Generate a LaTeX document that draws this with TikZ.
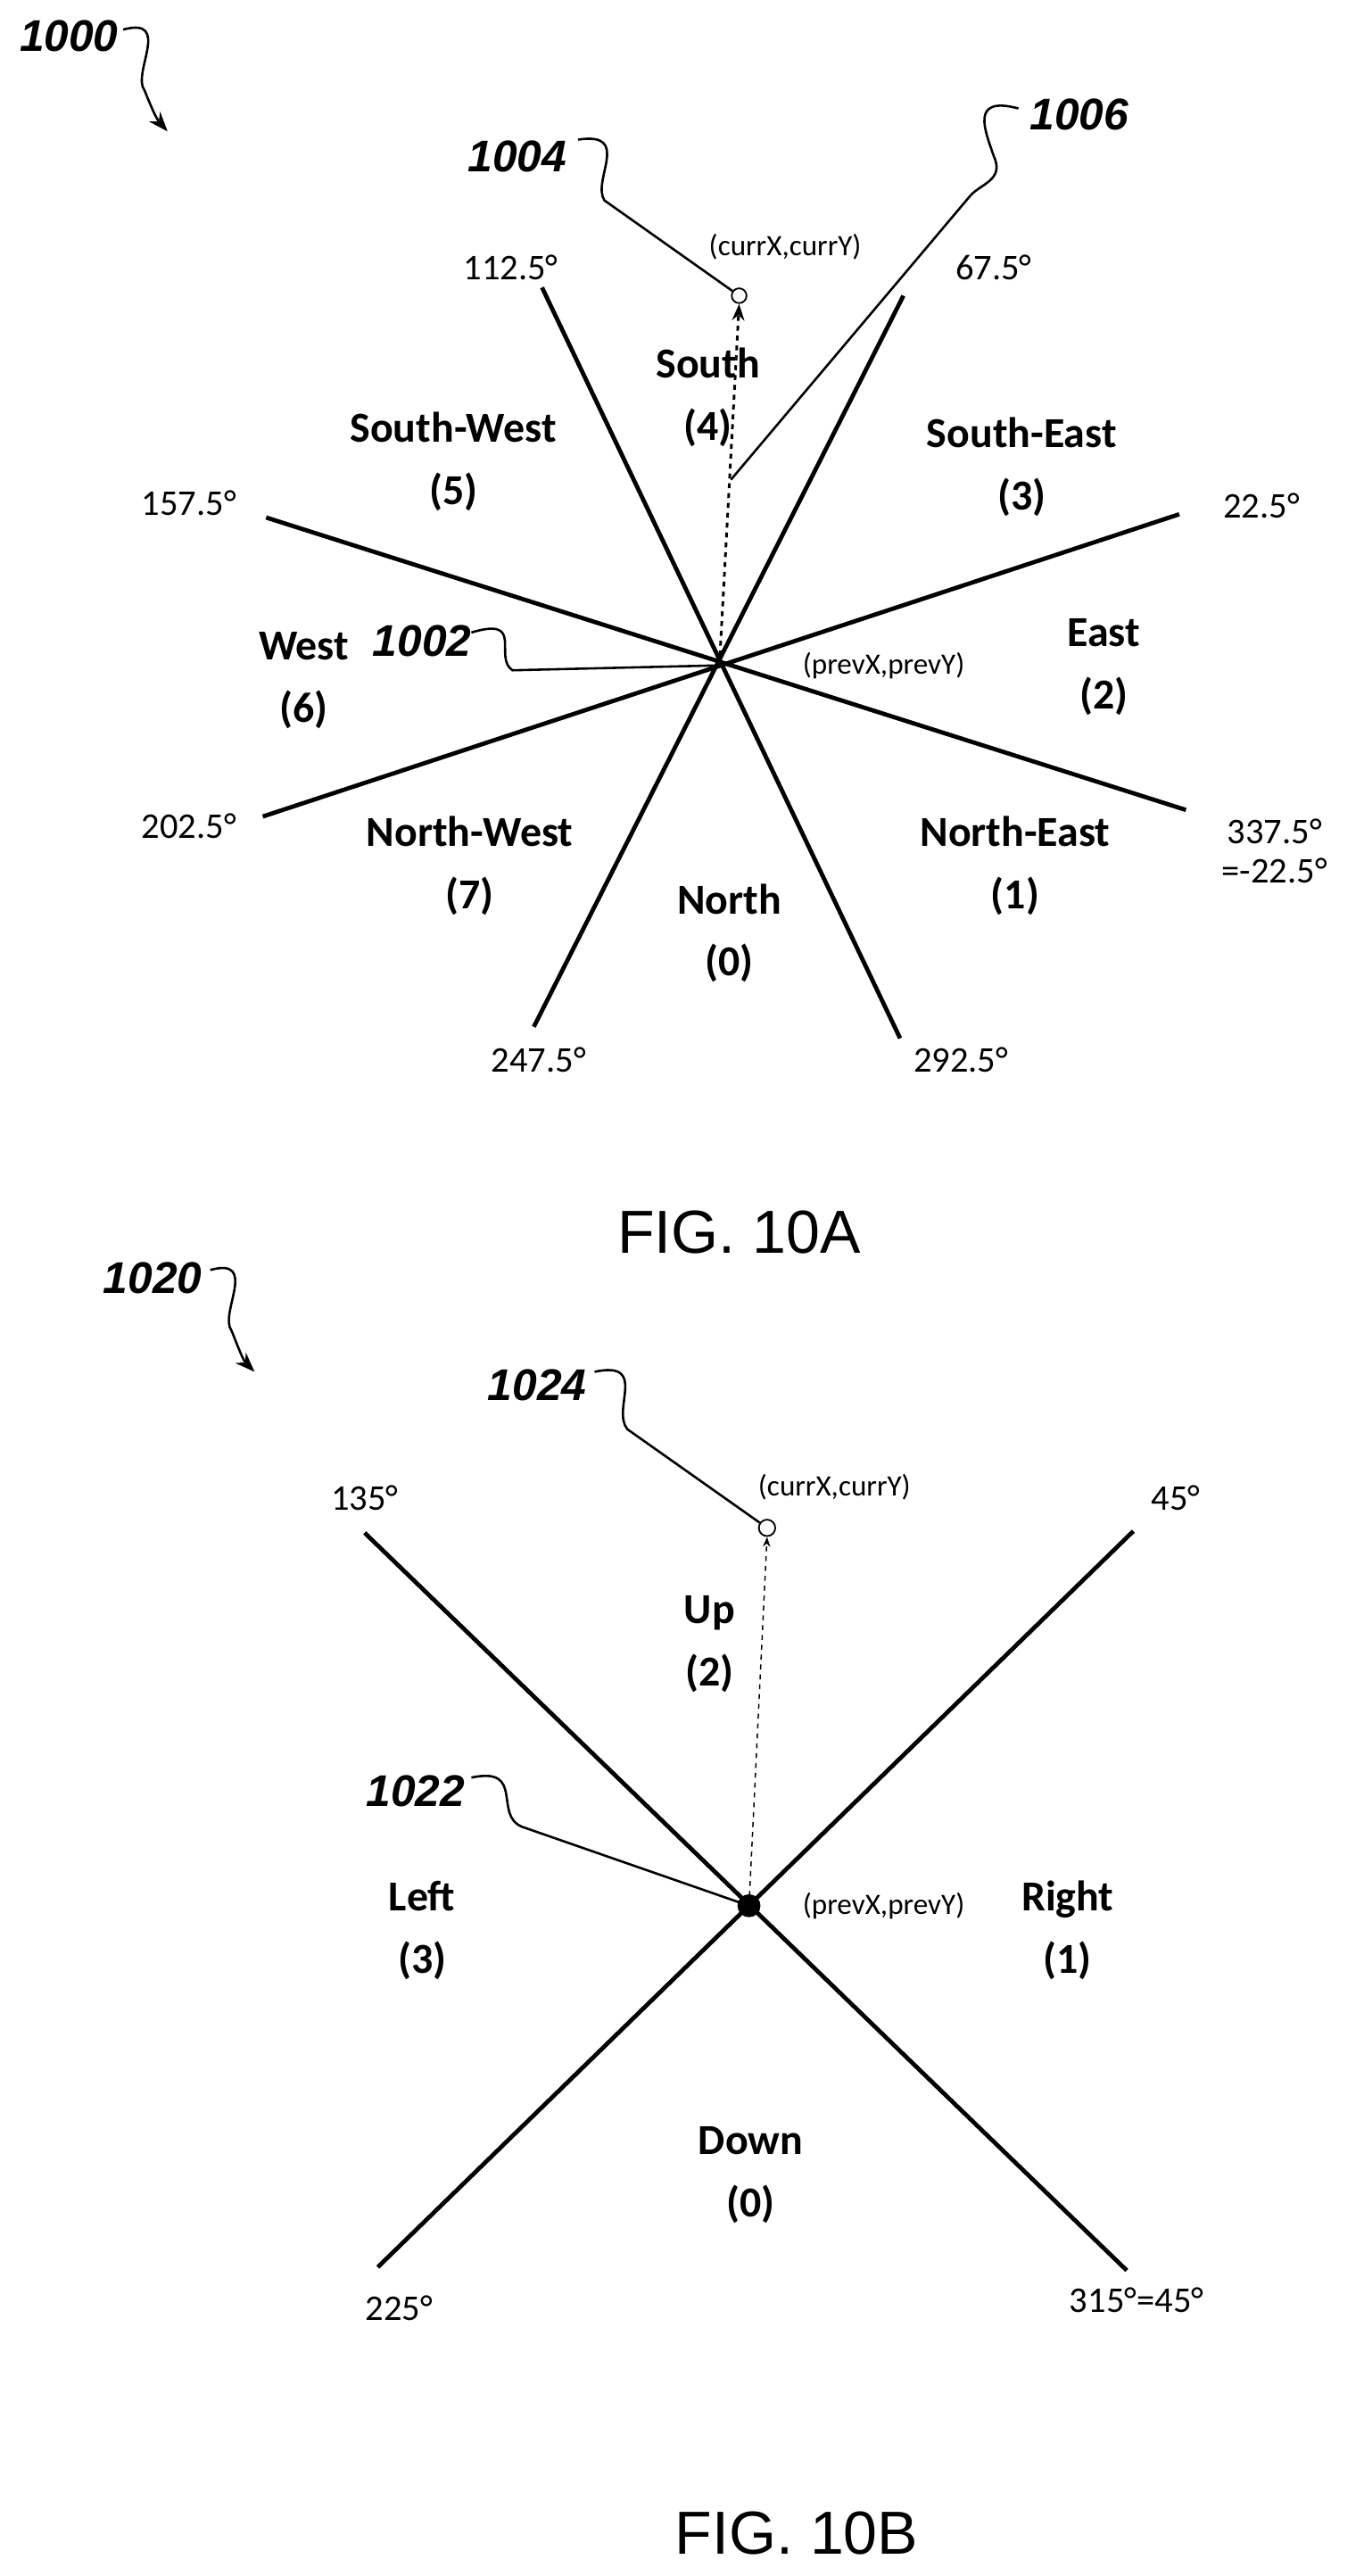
\documentclass[tikz,border=0pt]{standalone}
\usepackage{fontspec}
\setmainfont{Carlito}
\newfontfamily\arial{Liberation Sans}
\usetikzlibrary{arrows.meta}
\begin{document}
\begin{tikzpicture}[x=1pt,y=-1pt,
 ln/.style={line width=2.6pt},
 deg/.style={font=\fontsize{22}{24}\selectfont},
 sec/.style={font=\fontsize{26}{38}\selectfont\bfseries,align=center},
 small/.style={font=\fontsize{18}{20}\selectfont},
 ref/.style={font=\arial\fontsize{27}{29}\selectfont\bfseries\itshape},
 fig/.style={font=\arial\fontsize{37}{39}\selectfont},
 lead/.style={line width=1.4pt}]
\useasboundingbox (0,0) rectangle (830,1568);
% ---------- FIG 10A
\coordinate (c) at (438,405);
\coordinate (a1) at (330,175); \coordinate (a2) at (548,632);
\coordinate (b1) at (550,180); \coordinate (b2) at (325,625);
\coordinate (d1) at (718,313); \coordinate (d2) at (160,497);
\coordinate (e1) at (162,315); \coordinate (e2) at (722,493);
\draw[ln] (a1)--(a2); \draw[ln] (b1)--(b2); \draw[ln] (d1)--(d2); \draw[ln] (e1)--(e2);
\node[deg] (t1) at (311,163) {112.5°};
\node[deg] (t2) at (605,163) {67.5°};
\node[deg] (t3) at (768,308) {22.5°};
\node[deg] (t4) at (115,306) {157.5°};
\node[deg] (t5) at (115,503) {202.5°};
\node[deg,align=center] (t6) at (776,518) {337.5°\\=-22.5°};
\node[deg] (t7) at (328,645) {247.5°};
\node[deg] (t8) at (585,645) {292.5°};
\node[sec] (s5) at (276,281) {South-West\\(5)};
\node[sec] (s4) at (431,242) {South\\(4)};
\node[sec] (s3) at (622,284) {South-East\\(3)};
\node[sec] (s2) at (672,406) {East\\(2)};
\node[sec] (s6) at (185,414) {West\\(6)};
\node[sec] (s7) at (286,527) {North-West\\(7)};
\node[sec] (s0) at (444,568) {North\\(0)};
\node[sec] (s1) at (618,527) {North-East\\(1)};
\node[small] (pv) at (538,405) {(prevX,prevY)};
\node[small] (cv) at (478,150) {(currX,currY)};
\node[draw,circle,inner sep=0pt,minimum size=9pt,line width=1pt] (cur) at (450,180) {};
\draw[dashed,line width=1.6pt,-{Stealth[length=10pt]}] (c) -- (cur.south);
\node[ref] (r1004) at (315,95) {1004};
\draw[lead] (352,85) .. controls (385,80) and (360,110) .. (368,122) -- (cur);
\node[ref] (r1006) at (657,70) {1006};
\coordinate (q6) at (445,292);
\draw[lead] (620,66) .. controls (590,58) and (600,80) .. (605,95) .. controls (612,110) and (596,112) .. (590,120) -- (q6);
\node[ref] (r1002) at (257,390) {1002};
\draw[lead] (287,385) .. controls (320,375) and (300,400) .. (312,408) -- (c);
\node[ref] (r1000) at (42,22) {1000};
\draw[lead,-{Stealth[length=12pt]}] (75,18) .. controls (105,10) and (80,45) .. (88,55) .. controls (92,65) and (95,72) .. (102,80);
\node[fig] (f1) at (450,750) {FIG. 10A};
% ---------- FIG 10B
\coordinate (C) at (456,1160);
\draw[ln] (222,933)--(686,1382);
\draw[ln] (690,932)--(230,1380);
\node[deg] at (222,912) {135°};
\node[deg] at (716,912) {45°};
\node[deg] at (243,1405) {225°};
\node[deg] at (692,1400) {315°=45°};
\node[sec] at (432,1001) {Up\\(2)};
\node[sec] at (257,1175) {Left\\(3)};
\node[sec] at (650,1175) {Right\\(1)};
\node[sec] at (457,1324) {Down\\(0)};
\node[small] at (538,1160) {(prevX,prevY)};
\node[small] at (508,905) {(currX,currY)};
\node[draw,circle,inner sep=0pt,minimum size=10pt,line width=1pt] (cur2) at (467,930) {};
\fill (C) circle (7pt);
\draw[dashed,line width=0.8pt,-{Stealth[length=6pt]}] (C) -- (cur2.south);
\node[ref] at (327,843) {1024};
\draw[lead] (362,835) .. controls (395,828) and (372,858) .. (382,870) -- (cur2);
\node[ref] at (253,1090) {1022};
\draw[lead] (287,1082) .. controls (320,1075) and (300,1105) .. (318,1112) -- (C);
\node[ref] at (93,778) {1020};
\draw[lead,-{Stealth[length=12pt]}] (128,773) .. controls (158,765) and (133,800) .. (141,810) .. controls (145,820) and (148,828) .. (155,835);
\node[fig] at (485,1542) {FIG. 10B};
\end{tikzpicture}
\end{document}
